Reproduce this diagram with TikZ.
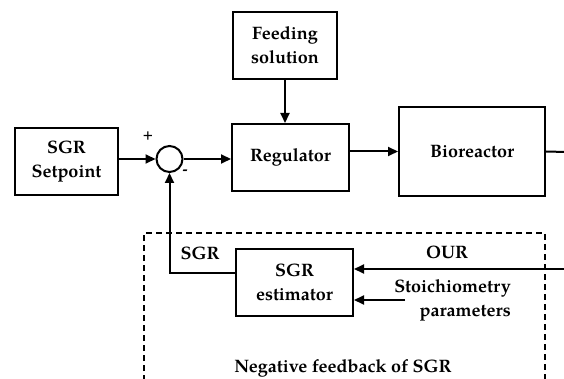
\documentclass[tikz,border=0pt]{standalone}
\usepackage{fontspec}
\setmainfont{texgyrepagella}[Extension=.otf,UprightFont=*-regular,BoldFont=*-bold,ItalicFont=*-italic,BoldItalicFont=*-bolditalic]
\usetikzlibrary{arrows.meta}
\begin{document}
\begin{tikzpicture}[x=1pt,y=-1pt,
  lbl/.style={font=\fontsize{18}{24}\selectfont\bfseries, align=center, inner sep=0pt},
  blk/.style={draw, line width=2pt, lbl},
  arr/.style={line width=2pt, -{Triangle[length=10pt,width=9pt]}},
  ln/.style={line width=2pt},
  dashbox/.style={line width=1.8pt, dash pattern=on 6pt off 4pt}
]
\useasboundingbox (0,0) rectangle (564,379);
\node[blk, minimum width=103pt, minimum height=67pt] (sp) at (66.5,161.5) {SGR\\Setpoint};
\node[draw, line width=2pt, circle, minimum size=26pt, inner sep=0pt] (sum) at (169.5,159) {};
\node[blk, minimum width=104pt, minimum height=67pt] (feed) at (285,45.5) {Feeding\\solution};
\node[blk, minimum width=117pt, minimum height=67pt] (reg) at (290.5,157.5) {Regulator};
\node[blk, minimum width=146pt, minimum height=89pt] (bio) at (472,151.5) {Bioreactor};
\node[blk, minimum width=117pt, minimum height=67pt] (est) at (294.5,282.5) {SGR\\estimator};
\coordinate (outR) at (566,152);
\coordinate (ourIn) at (566,269);
\coordinate (stIn) at (405,300);
\coordinate (fb) at (236,273);
\node[font=\fontsize{14}{16}\selectfont\bfseries, inner sep=0pt] (plus) at (148,136) {+};
\node[font=\fontsize{15}{16}\selectfont\bfseries, inner sep=0pt] (minus) at (185,172) {-};
\node[lbl] (lsgr) at (200,253) {SGR};
\node[lbl] (lour) at (447,252) {OUR};
\node[lbl, align=right, anchor=east] (lst) at (511,300) {Stoichiometry\\parameters};
\node[lbl] (lneg) at (343,368) {Negative feedback of SGR};
\draw[arr] (sp.east |- sum) -- (sum.west);
\draw[arr] (sum.east) -- (reg.west |- sum);
\draw[arr] (feed.south) -- (reg.north -| feed.south);
\draw[arr] (reg.east |- bio) -- (bio.west);
\draw[ln] (bio.east) -- (outR);
\draw[arr] (ourIn) -- (est.east |- ourIn);
\draw[arr] (stIn) -- (est.east |- stIn);
\draw[arr] (est.west |- fb) -| (sum.south);
\draw[dashbox] (144,381) -- (144,233) -- (545,233) -- (545,381);
\end{tikzpicture}
\end{document}
